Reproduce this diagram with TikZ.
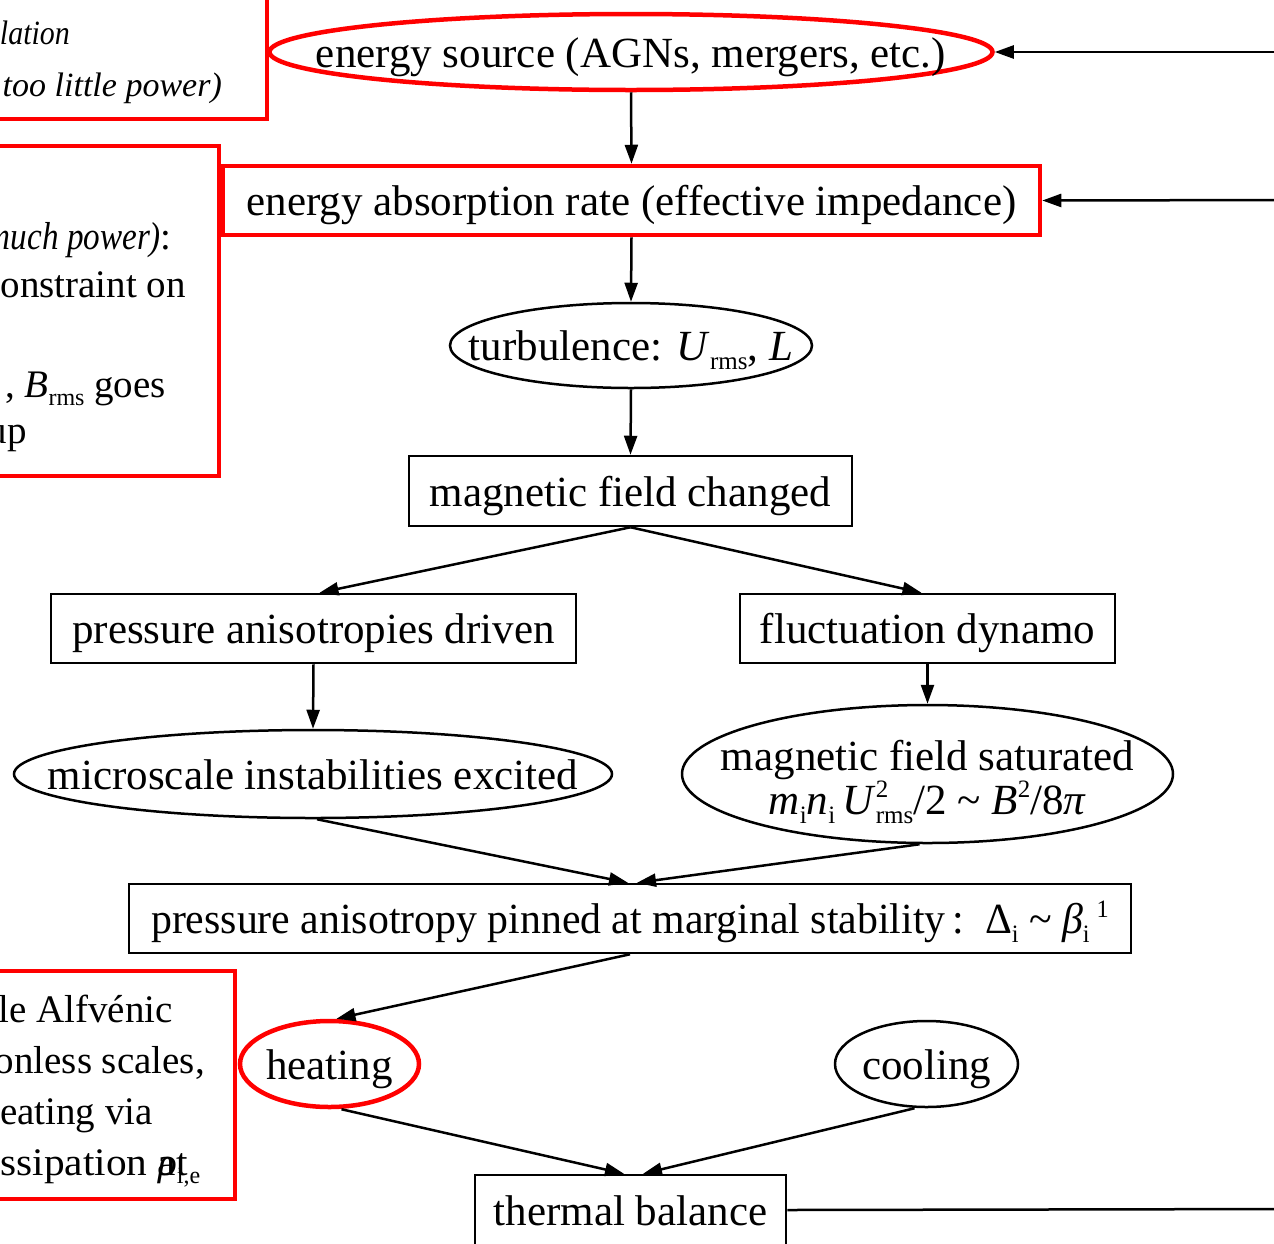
\documentclass[tikz,border=0pt]{standalone}
\usepackage{graphicx}
\usepackage{fontspec}
\setmainfont{Liberation Serif}
\usetikzlibrary{shapes.geometric,arrows.meta}
\newcommand{\mysub}[1]{\raisebox{-0.45ex}{\fontsize{25}{25}\selectfont #1}}
\newcommand{\mysup}[1]{\raisebox{0.85ex}{\fontsize{25}{25}\selectfont #1}}
\newcommand{\nsub}[1]{\raisebox{-0.45ex}{\fontsize{24}{24}\selectfont #1}}
\newcommand{\zb}[1]{\makebox[0pt]{\smash{\raisebox{-0.36em}{#1}}}}
\begin{document}
\begin{tikzpicture}[x=1pt,y=-1pt,
  base/.style={inner sep=0pt, font=\fontsize{43}{46}\selectfont},
  rbox/.style={base, draw, rectangle, line width=2.5pt},
  oval/.style={base, draw, ellipse, line width=2.5pt},
  hl/.style={draw=red, line width=4.5pt},
  arr/.style={line width=2.5pt, -{Triangle[length=19pt,width=13pt]}},
  note/.style={draw=red, line width=4.5pt},
  ntext/.style={inner sep=0pt, anchor=base east, font=\fontsize{39}{46}\selectfont},
  itext/.style={inner sep=0pt, anchor=base east, font=\fontsize{34}{40}\selectfont\itshape}]
\useasboundingbox (0,0) rectangle (1274,1243);
\clip (0,0) rectangle (1274,1243);
\fill[white] (0,0) rectangle (1274,1243);

% main nodes
\node[oval, hl, minimum width=723, minimum height=76] (src) at (631,52) {\zb{energy source (AGNs, mergers, etc.)}};
\node[rbox, hl, minimum width=817, minimum height=69] (abs) at (631.5,200.5) {\zb{energy absorption rate (effective impedance)}};
\node[oval, minimum width=362, minimum height=85] (turb) at (631,345.5) {\zb{turbulence: \textit{U}\mysub{rms}, \textit{L}}};
\node[rbox, minimum width=443, minimum height=70] (mfc) at (630.5,491) {\zb{magnetic field changed}};
\node[rbox, minimum width=525, minimum height=69] (pad) at (313.5,628.5) {\zb{pressure anisotropies driven}};
\node[rbox, minimum width=375, minimum height=69] (fd) at (927.5,628.5) {\zb{fluctuation dynamo}};
\node[oval, minimum width=598, minimum height=88] (mie) at (313,774) {\zb{microscale instabilities excited}};
\node[oval, minimum width=491, minimum height=138] (mfs) at (927.5,774) {\zb{\begin{tabular}[c]{@{}c@{}}magnetic field saturated\\[-3pt]
  \textit{m}\mysub{i}\textit{n}\mysub{i}\,\textit{U}\rlap{\mysup{2}}\mysub{rms}/2 \textasciitilde{} \textit{B}\mysup{2}/8\textit{π}\end{tabular}}};
\node[rbox, minimum width=1002, minimum height=69] (pin) at (630,918.5)
  {\zb{\scalebox{0.972}[1]{pressure anisotropy pinned at marginal stability\,: \,Δ\mysub{i} \textasciitilde{} \textit{β}\mysub{i}\,\mysup{1}}}};
\node[oval, hl, minimum width=179, minimum height=86] (heat) at (329.5,1064) {\zb{heating}};
\node[oval, minimum width=183, minimum height=86] (cool) at (926.5,1064) {\zb{cooling}};
\node[rbox, minimum width=311, minimum height=70] (tb) at (630.5,1210) {\zb{thermal balance}};

% connectors
\draw[arr] (src.south) -- (abs.north);
\draw[arr] (abs.south) -- (turb.north);
\draw[arr] (turb.south) -- (mfc.north);
\draw[arr] (mfc.south) -- ([xshift=6pt]pad.north);
\draw[arr] (mfc.south) -- ([xshift=-6pt]fd.north);
\draw[arr] (pad.south) -- (mie.north);
\draw[arr] (fd.south) -- (mfs.north);
\draw[arr] ([xshift=4pt]mie.south) -- ([xshift=-2pt]pin.north);
\draw[arr] ([xshift=-8pt]mfs.south) -- ([xshift=7pt]pin.north);
\draw[arr] (pin.south) -- ([xshift=7pt]heat.north);
\draw[arr] ([xshift=12pt]heat.south) -- ([xshift=-6.5pt]tb.north);
\draw[arr] ([xshift=-12pt]cool.south) -- ([xshift=12.5pt]tb.north);

% feedback lines from the right
\coordinate (r1) at (1290,52);
\coordinate (r2) at (1290,200);
\coordinate (r3) at (1290,1209);
\draw[arr] (r1) -- (src.east);
\draw[arr] (r2) -- (abs.east);
\draw[line width=2.5pt] (tb.east) -- (r3);

% left annotation boxes (cut off at the left edge)
\draw[note] (-20,-20) rectangle (267,119);
\node[itext] (a1) at (70,44) {\scalebox{0.88}[1]{lation}};
\node[itext] (a2) at (222,96) {too little power)};

\draw[note] (-20,146) rectangle (219,476);
\node[ntext] (b1) at (172,249) {\scalebox{0.85}[1]{\textit{much power)}}:};
\node[ntext] (b2) at (186,297) {onstraint on};
\node[ntext] (b3) at (166,397) {, \textit{B}\nsub{rms} goes};
\node[ntext] (b4) at (27,443) {up};

\draw[note] (-20,971) rectangle (235,1199);
\node[ntext] (c1) at (173,1022) {le Alfvénic};
\node[ntext] (c2) at (205,1073) {onless scales,};
\node[ntext] (c3) at (153,1124) {eating via};
\node[ntext] (c4) at (188,1175) {\scalebox{1.06}[1]{ssipation at}};
\node[inner sep=0pt, anchor=base west, font=\fontsize{39}{46}\selectfont] (c5) at (158,1175) {\textit{ρ}\nsub{i,e}};
\end{tikzpicture}
\end{document}
